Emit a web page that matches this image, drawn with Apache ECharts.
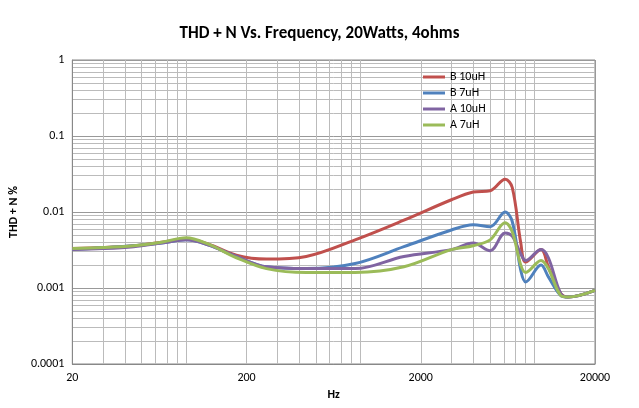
<!DOCTYPE html>
<html><head><meta charset="utf-8">
<script src="https://cdn.jsdelivr.net/npm/echarts@6/dist/echarts.min.js"></script>
<style>html,body{margin:0;background:#fff}#c{width:639px;height:408px}</style>
</head><body><div id="c"></div>
<script>
var freq = [20, 30, 45, 65, 90, 120, 175, 260, 440, 840, 1600, 3000, 4000, 5000, 6100, 6700, 7500, 8000, 9800, 10800, 12700, 14000, 20000];
var b10 = [.0033,.0034,.0036,.0040,.0044,.0038,.0027,.0024,.0026,.0043,.0078,.0145,.0183,.019,.027,.021,.0039,.0022,.0032,.0019,.00085,.00076,.00093];
var b7  = [.0032,.0034,.0036,.0039,.0043,.0037,.0026,.0019,.0018,.0021,.0035,.0058,.0068,.0064,.010,.0075,.0017,.0012,.0020,.0014,.0008,.00076,.00093];
var a10 = [.0032,.0033,.0035,.0039,.0043,.0037,.0026,.0019,.0018,.0018,.0026,.0032,.0039,.0031,.0053,.0048,.0028,.0023,.0032,.0025,.00085,.00076,.00093];
var a7  = [.0033,.0034,.0036,.0040,.0046,.0038,.0025,.0018,.0016,.0016,.0019,.0032,.0036,.0043,.0072,.0055,.0020,.0016,.0023,.0018,.0008,.00076,.00093];
var xTicks = [20, 200, 2000, 20000];
var names = ['B 10uH', 'B 7uH', 'A 10uH', 'A 7uH'];
var colors = ['#C0504D', '#4F81BD', '#8064A2', '#9BBB59'];

function pairs(v) { return freq.map(function (f, i) { return [f, v[i]]; }); }

var chart = echarts.init(document.getElementById('c'));
var font = 'Calibri, Carlito, "Open Sans", sans-serif';
chart.setOption({
    animation: false,
    title: { text: 'THD + N Vs. Frequency, 20Watts, 4ohms', left: 'center', top: 20,
        textStyle: { fontSize: 17, fontWeight: 'bold', color: '#000', fontFamily: font } },
    legend: { orient: 'vertical', left: 418, top: 66, itemWidth: 22, itemHeight: 3, itemGap: 4,
        icon: 'rect', textStyle: { fontSize: 12, color: '#000', fontFamily: font } },
    grid: { left: 62, right: 44, top: 60, bottom: 44, show: true, borderColor: '#888', borderWidth: 1 },
    xAxis: {
        type: 'log', logBase: 10, min: 20, max: 20000,
        name: 'Hz', nameLocation: 'middle', nameGap: 21,
        nameTextStyle: { fontWeight: 'bold', fontSize: 12, fontFamily: font, color: '#000' },
        axisLine: { lineStyle: { color: '#888' } },
        axisTick: { show: false, customValues: xTicks },
        axisLabel: { color: '#000', fontSize: 12, fontFamily: font, customValues: xTicks,
            formatter: function (v) { return String(Math.round(v)); } },
        splitLine: { lineStyle: { color: '#999' } },
        minorTick: { show: false, splitNumber: 9 },
        minorSplitLine: { show: true, lineStyle: { color: '#bbb' } }
    },
    yAxis: {
        type: 'log', logBase: 10, min: 0.0001, max: 1,
        name: 'THD + N %', nameLocation: 'middle', nameGap: 46, nameRotate: 90,
        nameTextStyle: { fontWeight: 'bold', fontSize: 12, fontFamily: font, color: '#000' },
        axisLine: { show: true, lineStyle: { color: '#888' } }, axisTick: { show: false },
        axisLabel: { color: '#000', fontSize: 12, fontFamily: font },
        splitLine: { lineStyle: { color: '#999' } },
        minorTick: { show: false, splitNumber: 9 },
        minorSplitLine: { show: true, lineStyle: { color: '#bbb' } }
    },
    series: [b10, b7, a10, a7].map(function (v, i) {
        return { name: names[i], type: 'line', data: pairs(v), smooth: 0.35, showSymbol: false,
            lineStyle: { width: 3, color: colors[i] }, itemStyle: { color: colors[i] } };
    })
});
</script></body></html>
